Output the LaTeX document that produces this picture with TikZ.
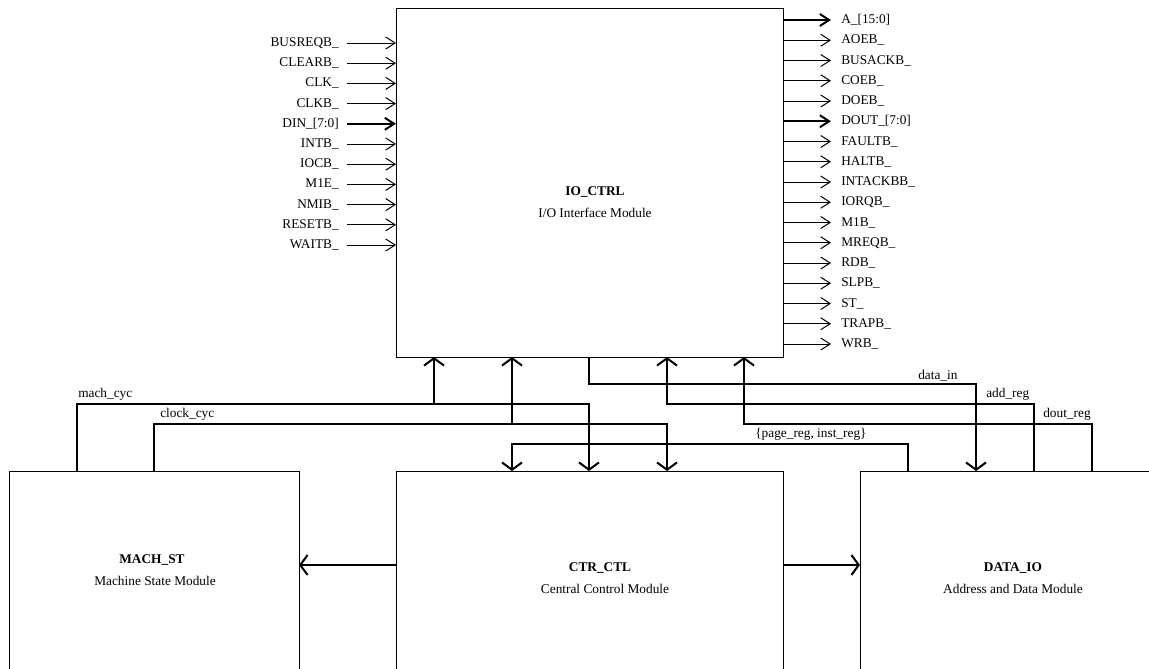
\documentclass[tikz,border=0pt]{standalone}
\usepackage{fontspec}
\setmainfont{Liberation Serif}
\usetikzlibrary{arrows.meta}
\begin{document}
\begin{tikzpicture}[x=0.75pt,y=-0.75pt,
  box/.style={draw,line width=0.75pt,inner sep=0pt,outer sep=0pt,anchor=north west},
  pin/.style={line width=0.75pt,-{Straight Barb[length=7pt,width=9pt]}},
  buspin/.style={line width=1.5pt,-{Straight Barb[length=7pt,width=9pt]}},
  conn/.style={line width=1.5pt},
  connarr/.style={conn,-{Straight Barb[length=5.5pt,width=15pt]}},
  lbl/.style={font=\fontsize{10}{12}\selectfont,inner sep=0pt},
  title/.style={font=\fontsize{10}{12}\selectfont\bfseries,inner sep=0pt},
  sig/.style={font=\fontsize{10}{12}\selectfont,inner sep=0pt,anchor=south west}]
\useasboundingbox (0,0) rectangle (1149,668);
\clip (0,0) rectangle (1149,668);
% boxes
\node[box,minimum width=290.25pt,minimum height=261.75pt] (io) at (396,8) {};
\node[box,minimum width=217.5pt,minimum height=171.75pt] (mach) at (9,471) {};
\node[box,minimum width=290.25pt,minimum height=171.75pt] (ctr) at (396,471) {};
\node[box,minimum width=240pt,minimum height=171.75pt] (data) at (860,471) {};
% titles
\node[title] (tio) at (595,192) {IO\_CTRL};
\node[lbl] (dio) at (595,213) {I/O Interface Module};
\node[title] (tmach) at (152,560) {MACH\_ST};
\node[lbl] (dmach) at (155,581) {Machine State Module};
\node[title] (tctr) at (600,568) {CTR\_CTL};
\node[lbl] (dctr) at (605,589) {Central Control Module};
\node[title] (tdata) at (1013,568) {DATA\_IO};
\node[lbl] (ddata) at (1013,589) {Address and Data Module};
% input pins
\foreach \n/\t/\s [count=\i from 0] in {BUSREQB\_/a/pin, CLEARB\_/b/pin, CLK\_/c/pin, CLKB\_/d/pin, DIN\_[7:0]/e/buspin, INTB\_/f/pin, IOCB\_/g/pin, M1E\_/h/pin, NMIB\_/i/pin, RESETB\_/j/pin, WAITB\_/k/pin}{
  \node[lbl,anchor=east] (in\t) at (339,{43+20.2*\i}) {\n};
  \draw[\s] ([xshift=6pt]in\t.east) -- (in\t.east -| io.west);
}
% output pins
\foreach \n/\t/\s [count=\i from 0] in {A\_[15:0]/a/buspin, AOEB\_/b/pin, BUSACKB\_/c/pin, COEB\_/d/pin, DOEB\_/e/pin, DOUT\_[7:0]/f/buspin, FAULTB\_/g/pin, HALTB\_/h/pin, INTACKBB\_/i/pin, IORQB\_/j/pin, M1B\_/k/pin, MREQB\_/l/pin, RDB\_/m/pin, SLPB\_/n/pin, ST\_/o/pin, TRAPB\_/p/pin, WRB\_/q/pin}{
  \node[lbl,anchor=west] (out\t) at (841,{20+20.25*\i}) {\n};
  \draw[\s] (io.east |- out\t.west) -- ([xshift=-7.5pt]out\t.west);
}
% routing points
\coordinate (mcA) at (77,404);  \coordinate (mcB) at (589,404);  \coordinate (mcT) at (434,404);
\coordinate (ccA) at (154,424); \coordinate (ccB) at (667,424);  \coordinate (ccT) at (512,424);
\coordinate (diA) at (589,384); \coordinate (diB) at (976,384);
\coordinate (arA) at (1034,404);\coordinate (arB) at (667,404);
\coordinate (drA) at (1092,424);\coordinate (drB) at (744,424);
\coordinate (prA) at (908,444); \coordinate (prB) at (512,444);
\coordinate (hy) at (0,565);
% connectors
\draw[connarr] (mcA |- mach.north) -- (mcA) -- (mcB) -- (mcB |- ctr.north);
\draw[connarr] (mcT) -- (mcT |- io.south);
\draw[connarr] (ccA |- mach.north) -- (ccA) -- (ccB) -- (ccB |- ctr.north);
\draw[connarr] (ccT) -- (ccT |- io.south);
\draw[connarr] (diA |- io.south) -- (diA) -- (diB) -- (diB |- data.north);
\draw[connarr] (arA |- data.north) -- (arA) -- (arB) -- (arB |- io.south);
\draw[connarr] (drA |- data.north) -- (drA) -- (drB) -- (drB |- io.south);
\draw[connarr] (prA |- data.north) -- (prA) -- (prB) -- (prB |- ctr.north);
\draw[connarr] (ctr.west |- hy) -- (mach.east |- hy);
\draw[connarr] (ctr.east |- hy) -- (data.west |- hy);
% signal labels
\node[sig] (lmc) at (78,401) {mach\_cyc};
\node[sig] (lcc) at (160,421) {clock\_cyc};
\node[sig] (ldi) at (918,381) {data\_in};
\node[sig] (lar) at (986,401) {add\_reg};
\node[sig] (ldr) at (1043,421) {dout\_reg};
\node[sig] (lpr) at (755,441) {\{page\_reg, inst\_reg\}};
\end{tikzpicture}
\end{document}
